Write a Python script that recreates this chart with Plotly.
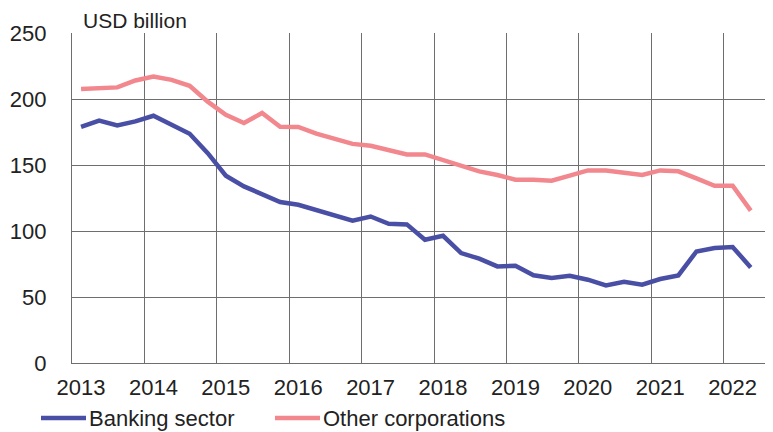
import plotly.graph_objects as go

# quarterly series, 2013Q1 .. 2022Q2, USD billion
years = list(range(2013, 2023))
quarters = [y + (q - 0.5) / 4 for y in years for q in range(1, 5)][:38]

banking = [178.8, 183.6, 180.0, 183.0, 187.3, 180.5, 173.7, 159.0,
           141.9, 133.8, 127.5, 122.0, 119.9, 115.6, 111.8, 107.8,
           111.0, 105.5, 105.0, 93.4, 96.4, 83.3, 79.0, 73.2,
           73.7, 66.4, 64.4, 66.1, 63.1, 58.8, 61.6, 59.3,
           63.6, 66.4, 84.5, 87.1, 87.9, 72.4]

other = [207.6, 207.8, 208.8, 214.0, 217.0, 214.5, 210.0, 198.0,
         188.0, 181.8, 189.4, 179.0, 178.8, 173.7, 170.0, 166.0,
         164.6, 161.6, 158.0, 158.0, 153.5, 149.5, 145.2, 142.4,
         138.9, 138.9, 138.1, 141.9, 145.9, 145.9, 144.4, 142.4,
         145.9, 145.2, 139.9, 134.3, 134.3, 115.4]

names = ["Banking sector", "Other corporations"]
colors = ["#4A4FA6", "#F2878D"]

# the page body adds an 8px offset, so size the figure to what is visible
OFF = 8
W, H = 773 - OFF, 432 - OFF
L, T = 72 - OFF, 33 - OFF
R, B = 0, H - (363 - OFF)
pw, ph = W - L - R, H - T - B
year_px = 72.4

fig = go.Figure()
for ys, name, c in zip([banking, other], names, colors):
    fig.add_trace(go.Scatter(x=quarters, y=ys, name=name, mode="lines",
                             line=dict(color=c, width=4.5), showlegend=False))

font = dict(family="Liberation Sans, Arial, sans-serif", size=22, color="#222")
grid = "#6e6e6e"

fig.update_layout(
    width=W, height=H,
    margin=dict(l=L, r=R, t=T, b=B, autoexpand=False),
    paper_bgcolor="white", plot_bgcolor="white",
    font=font,
    xaxis=dict(range=[2013, 2013 + pw / year_px], tickvals=years,
               ticktext=[str(y) for y in years], showgrid=True,
               gridcolor=grid, gridwidth=1.3, zeroline=False,
               showline=True, linecolor=grid, linewidth=1.3,
               ticks="", ticklabelshift=9, ticklabelstandoff=4,
               automargin=False),
    yaxis=dict(range=[0, 250], tickvals=[0, 50, 100, 150, 200, 250],
               showgrid=True, gridcolor=grid, gridwidth=1.3,
               zeroline=False, showline=True, linecolor=grid,
               linewidth=1.3, ticks="", ticklabelstandoff=20,
               automargin=False),
)


def px_x(p):
    return (p - OFF - L) / pw


def px_y(p):
    return (H - B - (p - OFF)) / ph


fig.add_annotation(text="USD billion", x=px_x(82), y=px_y(21), xref="paper",
                   yref="paper", xanchor="left", yanchor="middle",
                   showarrow=False, borderpad=0,
                   font=dict(family=font["family"], size=21, color="#222"))

# legend drawn below the plot
for (x0, x1), name, c in zip([(41, 86), (275, 320)], names, colors):
    fig.add_shape(type="line", xref="paper", yref="paper",
                  x0=px_x(x0), x1=px_x(x1), y0=px_y(418), y1=px_y(418),
                  line=dict(color=c, width=4.5))
    fig.add_annotation(text=name, x=px_x(x1 + 1), y=px_y(418), xref="paper",
                       yref="paper", xanchor="left", yanchor="middle",
                       showarrow=False, font=font)

fig.write_html("out.html")
